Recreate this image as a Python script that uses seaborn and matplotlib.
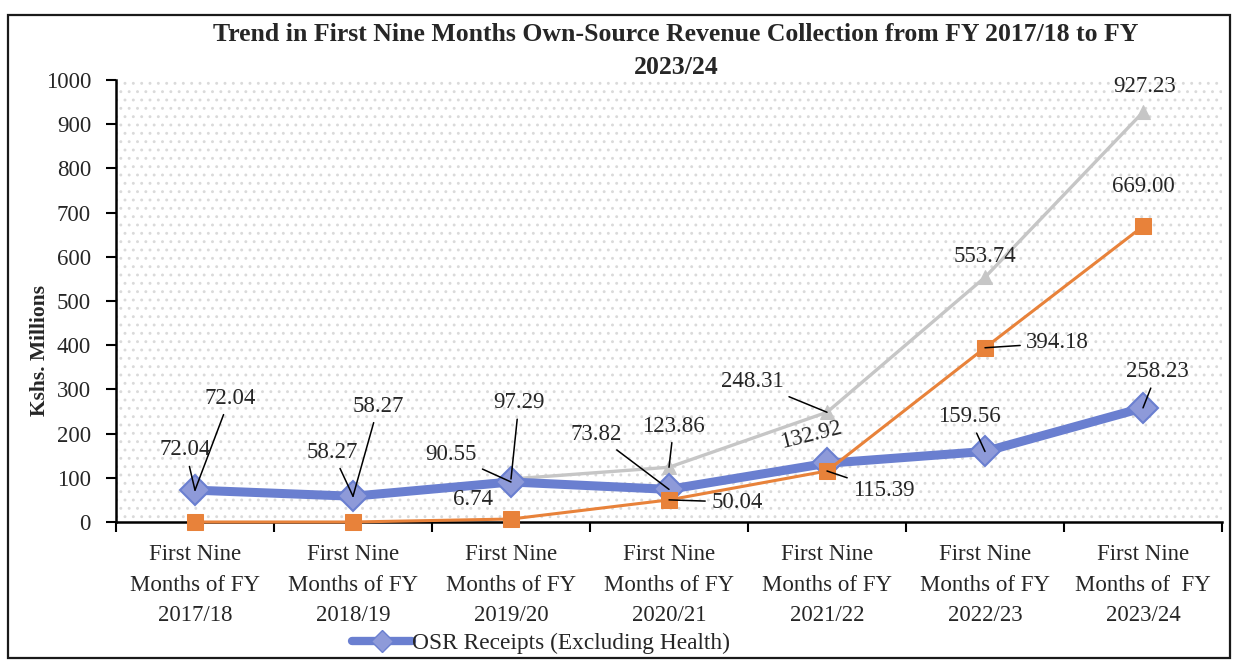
import matplotlib
matplotlib.use("Agg")
import matplotlib.pyplot as plt
import matplotlib.lines as mlines
from matplotlib.patches import Rectangle
import seaborn as sns
import pandas as pd

# ---- data -------------------------------------------------------------
periods = ["2017/18", "2018/19", "2019/20", "2020/21", "2021/22", "2022/23", "2023/24"]
tick_labels = [
    "First Nine\nMonths of FY\n2017/18",
    "First Nine\nMonths of FY\n2018/19",
    "First Nine\nMonths of FY\n2019/20",
    "First Nine\nMonths of FY\n2020/21",
    "First Nine\nMonths of FY\n2021/22",
    "First Nine\nMonths of FY\n2022/23",
    "First Nine\nMonths of  FY\n2023/24",
]
osr_excl_health = [72.04, 58.27, 90.55, 73.82, 132.92, 159.56, 258.23]
health_fif = [0.0, 0.0, 6.74, 50.04, 115.39, 394.18, 669.00]
total_osr = [72.04, 58.27, 97.29, 123.86, 248.31, 553.74, 927.23]

title = "Trend in First Nine Months Own-Source Revenue Collection from FY 2017/18 to FY\n2023/24"
y_label = "Kshs. Millions"
legend_label = "OSR Receipts (Excluding Health)"

# ---- style --------------------------------------------------------------
sns.set_theme(style="white")
plt.rcParams["font.family"] = ["Liberation Serif", "DejaVu Serif"]
plt.rcParams["hatch.color"] = "#dadada"
plt.rcParams["hatch.linewidth"] = 0.9

BLUE = "#6a7fd0"
BLUE_MK = "#8e9ad9"
ORANGE = "#e8823a"
GRAY = "#c6c6c6"

fig = plt.figure(figsize=(12.36, 6.66), dpi=100)
ax = fig.add_axes([116 / 1236, 1 - 522 / 666, (1222 - 116) / 1236, (522 - 80) / 666])

# dotted plot-area background
ax.patch.set_facecolor("white")
ax.patch.set_hatch("..")
ax.patch.set_edgecolor("#dadada")
ax.patch.set_linewidth(0)

df = pd.DataFrame({
    "pos": list(range(len(periods))),
    "osr": osr_excl_health,
    "health": health_fif,
    "total": total_osr,
})

sns.lineplot(data=df, x="pos", y="total", ax=ax, color=GRAY, lw=2.4,
             marker="^", markersize=10, markerfacecolor=GRAY,
             markeredgecolor=GRAY, zorder=3, clip_on=False)
sns.lineplot(data=df, x="pos", y="osr", ax=ax, color=BLUE, lw=6.5,
             marker="D", markersize=15, markerfacecolor=BLUE_MK,
             markeredgecolor=BLUE, markeredgewidth=1.5, zorder=4, clip_on=False)
sns.lineplot(data=df, x="pos", y="health", ax=ax, color=ORANGE, lw=2.2,
             marker="s", markersize=11, markerfacecolor=ORANGE,
             markeredgecolor=ORANGE, zorder=5, clip_on=False)

# ---- axes -------------------------------------------------------------------
ax.set_xlim(-0.5, len(periods) - 0.5)
ax.set_ylim(0, 1000)
ax.set_yticks(range(0, 1001, 100))
ax.set_xticks(range(len(periods)))
ax.set_xticklabels(tick_labels, fontsize=16.5, linespacing=1.6)
ax.set_xticks([i - 0.5 for i in range(len(periods) + 1)], minor=True)
ax.tick_params(axis="x", which="major", length=0, pad=16)
ax.tick_params(axis="x", which="minor", length=7, width=1.5, color="black",
               direction="out", bottom=True)
ax.tick_params(axis="y", length=7, width=1.5, color="black", direction="out",
               labelsize=16.5, pad=11, left=True)
ax.set_xlabel("")
ax.set_ylabel("")
for side in ("top", "right"):
    ax.spines[side].set_visible(False)
for side in ("left", "bottom"):
    ax.spines[side].set_color("black")
    ax.spines[side].set_linewidth(1.8)
ax.grid(False)

# ---- value labels --------------------------------------------------------
def label(text, xy, xytext, leader=True, rot=0):
    kw = dict(textcoords="data", ha="center", va="center", fontsize=16.5,
              rotation=rot, zorder=7)
    if leader:
        kw["arrowprops"] = dict(arrowstyle="-", color="black", lw=1.1,
                                shrinkA=2, shrinkB=0)
    ax.annotate(text, xy=xy, xytext=xytext, **kw)

fmt = "{:.2f}".format
# total OSR (grey)
label(fmt(total_osr[0]), (0, total_osr[0]), (0.22, 280))
label(fmt(total_osr[1]), (1, total_osr[1]), (1.16, 262))
label(fmt(total_osr[2]), (2, total_osr[2]), (2.05, 270))
label(fmt(total_osr[3]), (3, total_osr[3]), (3.03, 217))
label(fmt(total_osr[4]), (4, total_osr[4]), (3.53, 317))
label(fmt(total_osr[5]), (5, total_osr[5]), (5.0, 600), leader=False)
label(fmt(total_osr[6]), (6, total_osr[6]), (6.01, 986), leader=False)
# OSR excluding health (blue)
label(fmt(osr_excl_health[0]), (0, osr_excl_health[0]), (-0.06, 163))
label(fmt(osr_excl_health[1]), (1, osr_excl_health[1]), (0.87, 158))
label(fmt(osr_excl_health[2]), (2, osr_excl_health[2]), (1.62, 152))
label(fmt(osr_excl_health[3]), (3, osr_excl_health[3]), (2.54, 198))
label(fmt(osr_excl_health[4]), (4, osr_excl_health[4]), (3.9, 197),
      leader=False, rot=14)
label(fmt(osr_excl_health[5]), (5, osr_excl_health[5]), (4.9, 238))
label(fmt(osr_excl_health[6]), (6, osr_excl_health[6]), (6.09, 340))
# health (orange)
label(fmt(health_fif[2]), (2, health_fif[2]), (1.76, 50), leader=False)
label(fmt(health_fif[3]), (3, health_fif[3]), (3.43, 45))
label(fmt(health_fif[4]), (4, health_fif[4]), (4.36, 72))
label(fmt(health_fif[5]), (5, health_fif[5]), (5.46, 405))
label(fmt(health_fif[6]), (6, health_fif[6]), (6.0, 758), leader=False)

# ---- title, axis title, legend, frame ---------------------------------------
fig.text(676 / 1236, 1 - 51 / 666, title, ha="center", va="center",
         fontsize=18.5, fontweight="bold", linespacing=1.55)
fig.text(40 / 1236, 1 - 351 / 666, y_label, ha="center", va="center",
         rotation=90, fontsize=15.5, fontweight="bold")

handle = mlines.Line2D([], [], color=BLUE, lw=6, marker="D", markersize=11,
                       markerfacecolor=BLUE_MK, markeredgecolor=BLUE)
fig.legend(handles=[handle], labels=[legend_label], loc="center",
           bbox_to_anchor=(541 / 1236, 1 - 643 / 666), frameon=False,
           fontsize=16.8, handlelength=2.6, handletextpad=0.0)

fig.add_artist(Rectangle((8 / 1236, 8 / 666), (1230 - 8) / 1236, (658 - 15) / 666,
                         transform=fig.transFigure, fill=False,
                         edgecolor="#1a1a1a", lw=1.6))

fig.savefig("out.png", dpi=100)
